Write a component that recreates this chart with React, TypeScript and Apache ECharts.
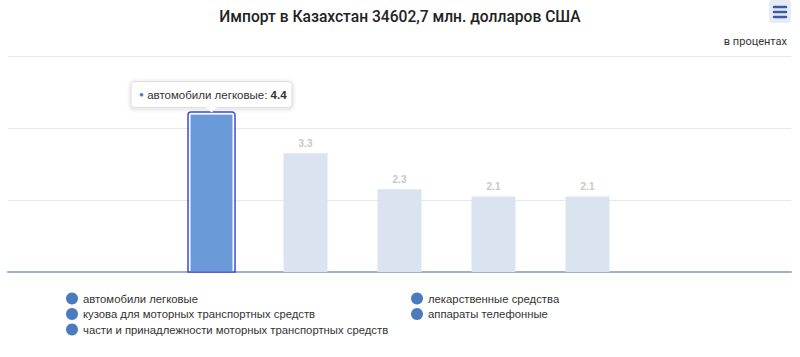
import React, { useEffect, useRef } from "react";
import * as echarts from "echarts";

const categories = [
  "автомобили легковые",
  "кузова для моторных транспортных средств",
  "части и принадлежности моторных транспортных средств",
  "лекарственные средства",
  "аппараты телефонные",
];
const values = [4.4, 3.3, 2.3, 2.1, 2.1];
const titleText = "Импорт в Казахстан 34602,7 млн. долларов США";
const subtitleText = "в процентах";
const highlighted = 0;
const BAR_W = 44;

export default function App() {
  const ref = useRef<HTMLDivElement>(null);
  useEffect(() => {
    document.body.style.margin = "0";
    if (!ref.current) return;
    const chart = echarts.init(ref.current, undefined, { renderer: "svg" });
    const series = categories.map((name, i) => ({
      type: "bar",
      name,
      stack: "all",
      barWidth: BAR_W,
      data: [[i, values[i]]],
      itemStyle:
        i === highlighted
          ? { color: "#6a9bd8", borderColor: "#ffffff", borderWidth: 1 }
          : { color: "#dae3f0" },
      label: {
        show: i !== highlighted,
        position: "top",
        distance: 5,
        color: "#c8c8c8",
        fontSize: 10,
        fontWeight: "bold",
        fontFamily: "Liberation Sans, Arial, sans-serif",
        formatter: (p: any) => String(p.value[1]),
      },
    }));
    const legendCommon = {
      orient: "vertical",
      icon: "circle",
      itemWidth: 12,
      itemHeight: 12,
      itemGap: 3.5,
      selectedMode: false,
      itemStyle: { color: "#4a7bbf", borderWidth: 0 },
      textStyle: {
        color: "#333",
        fontSize: 11.3,
        lineHeight: 12,
        fontFamily: "Liberation Sans, Arial, sans-serif",
      },
    };
    chart.setOption({
      animation: false,
      title: [
        {
          text: titleText,
          left: "center",
          top: 4,
          textStyle: {
            fontFamily: "Roboto, sans-serif",
            fontSize: 15.6,
            fontWeight: 500,
            color: "#222",
          },
        },
        {
          text: subtitleText,
          right: 8,
          top: 31,
          textStyle: {
            fontFamily: "Roboto, sans-serif",
            fontSize: 11,
            fontWeight: "normal",
            color: "#333",
          },
        },
      ],
      legend: [
        { ...legendCommon, left: 61, top: 287.5, data: categories.slice(0, 3) },
        { ...legendCommon, left: 406, top: 287.5, data: categories.slice(3) },
      ],
      grid: { left: 8, right: 9, top: 56, bottom: 85 },
      xAxis: {
        type: "value",
        min: -2.165,
        max: 6.165,
        axisLabel: { show: false },
        axisTick: { show: false },
        splitLine: { show: false },
        axisLine: { show: true, lineStyle: { color: "#9fb1ca", width: 2 } },
      },
      yAxis: {
        type: "value",
        min: 0,
        max: 6,
        interval: 2,
        axisLabel: { show: false },
        axisTick: { show: false },
        axisLine: { show: false },
        splitLine: { lineStyle: { color: "#e8e8e8", width: 1 } },
      },
      series,
    });

    const [px, py] = chart.convertToPixel({ gridIndex: 0 }, [
      highlighted,
      values[highlighted],
    ]) as number[];
    const [, py0] = chart.convertToPixel({ gridIndex: 0 }, [highlighted, 0]) as number[];
    const boxW = 161;
    const boxH = 26;
    const bx = px - boxW / 2;
    const by = py - 6 - boxH;
    chart.setOption({
      graphic: [
        {
          type: "rect",
          z: 50,
          shape: {
            x: px - BAR_W / 2 - 1.5,
            y: py - 1.5,
            width: BAR_W + 3,
            height: py0 - py + 1.5,
            r: [3, 3, 0, 0],
          },
          style: { fill: "none", stroke: "#3d4ccb", lineWidth: 1.5 },
        },
        {
          type: "group",
          z: 100,
          children: [
            {
              type: "rect",
              shape: { x: bx, y: by, width: boxW, height: boxH, r: 3 },
              style: {
                fill: "#fff",
                stroke: "#dcdcdc",
                lineWidth: 1,
                shadowBlur: 4,
                shadowColor: "rgba(0,0,0,0.18)",
                shadowOffsetY: 1,
              },
              z: 100,
            },
            {
              type: "polygon",
              shape: {
                points: [
                  [px - 6, by + boxH - 0.5],
                  [px + 6, by + boxH - 0.5],
                  [px, by + boxH + 5],
                ],
              },
              style: { fill: "#fff" },
              z: 101,
            },
            {
              type: "text",
              x: bx + 8,
              y: by + boxH / 2,
              z: 102,
              style: {
                text:
                  "{d|●} {t|" +
                  categories[highlighted] +
                  ": }{v|" +
                  values[highlighted] +
                  "}",
                verticalAlign: "middle",
                rich: {
                  d: { fill: "#4a7bbf", fontSize: 8, fontFamily: "Liberation Sans, Arial" },
                  t: { fill: "#333", fontSize: 11.5, fontFamily: "Liberation Sans, Arial" },
                  v: {
                    fill: "#333",
                    fontSize: 11.5,
                    fontWeight: "bold",
                    fontFamily: "Liberation Sans, Arial",
                  },
                },
              },
            },
          ],
        },
        {
          type: "group",
          children: [
            {
              type: "rect",
              shape: { x: 769, y: 0, width: 22, height: 23, r: 3 },
              style: { fill: "#e6ebf5" },
            },
            ...[7, 12, 17].map((y) => ({
              type: "line",
              shape: { x1: 774, y1: y, x2: 786, y2: y },
              style: { stroke: "#3c5aa6", lineWidth: 2.5, lineCap: "round" },
            })),
          ],
        },
      ],
    });
    return () => chart.dispose();
  }, []);
  return <div ref={ref} style={{ width: 800, height: 357 }} />;
}
